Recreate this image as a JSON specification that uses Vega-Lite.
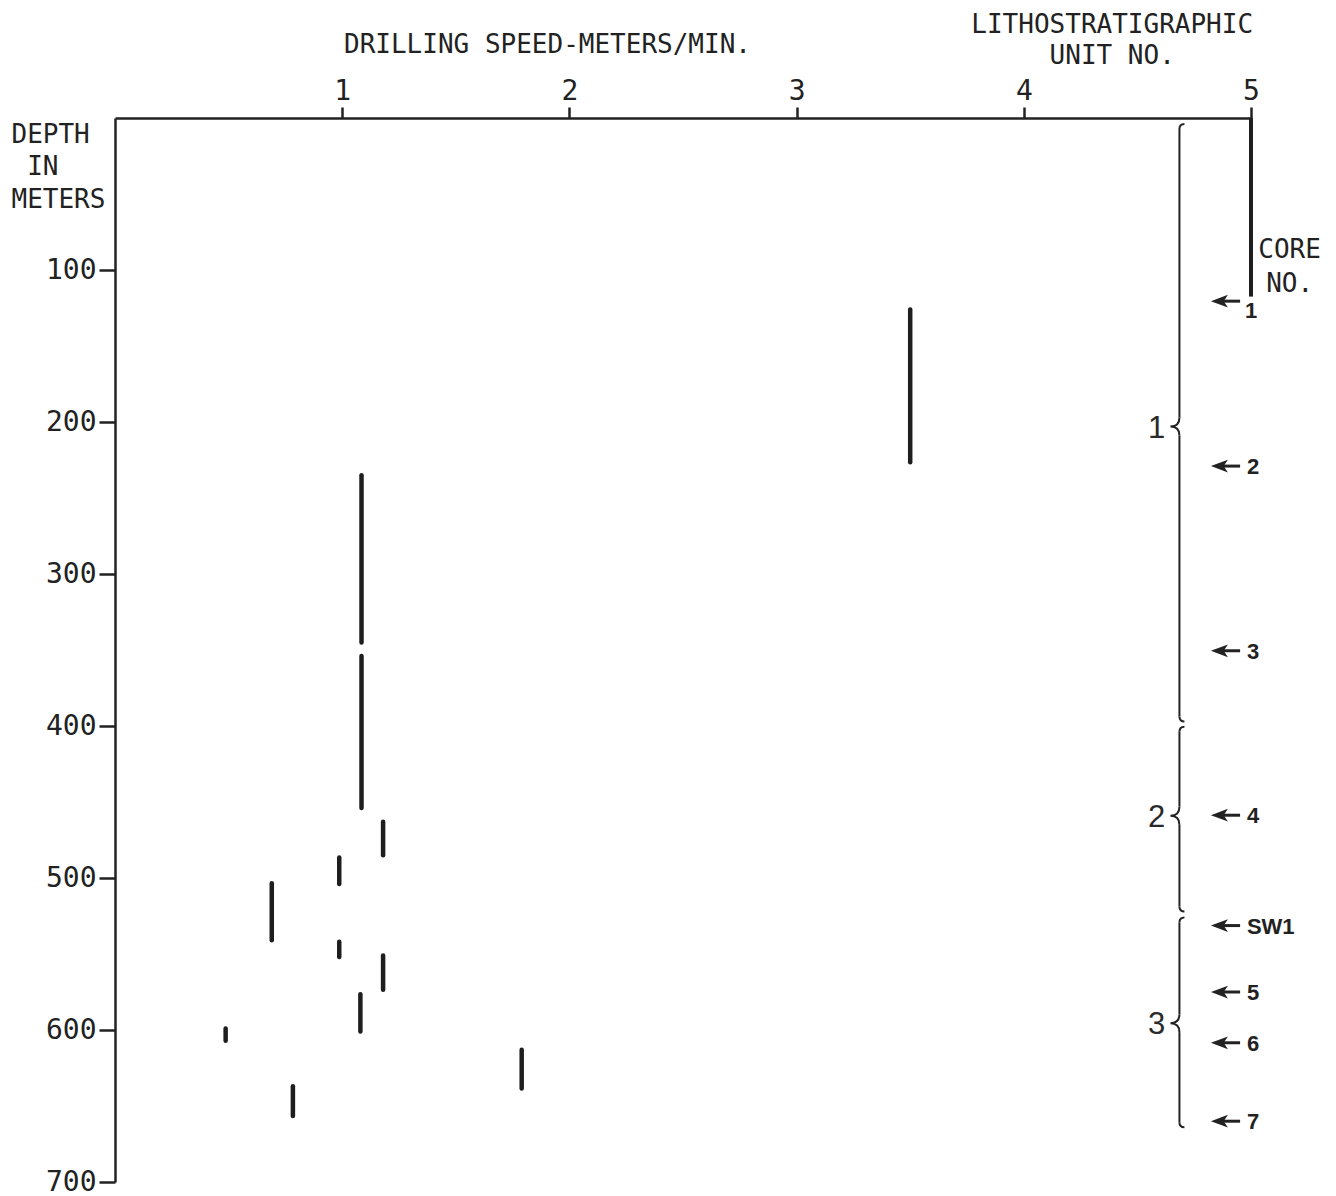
{
  "$schema": "https://vega.github.io/schema/vega-lite/v6.json",
  "autosize": {"type": "none"},
  "padding": {"left": 115, "top": 118, "right": 85, "bottom": 14},
  "width": 1136,
  "height": 1064,
  "background": "white",
  "datasets": {
    "segments": [
      {"speed": 3.50, "top": 126, "bottom": 226.5},
      {"speed": 1.085, "top": 235, "bottom": 345},
      {"speed": 1.085, "top": 354, "bottom": 454},
      {"speed": 1.18, "top": 463, "bottom": 485},
      {"speed": 0.987, "top": 486.5, "bottom": 504},
      {"speed": 0.69, "top": 503.5, "bottom": 541},
      {"speed": 0.987, "top": 542, "bottom": 552},
      {"speed": 1.18, "top": 551, "bottom": 573.5},
      {"speed": 1.08, "top": 576.5, "bottom": 601},
      {"speed": 0.487, "top": 599, "bottom": 607},
      {"speed": 1.79, "top": 613, "bottom": 638.5},
      {"speed": 0.783, "top": 637, "bottom": 656.5}
    ],
    "cored": [{"speed": 5, "top": 0, "bottom": 117.5}],
    "units": [
      {"unit": "1", "top": 4, "tip": 203, "bottom": 397},
      {"unit": "2", "top": 400.5, "tip": 459, "bottom": 522},
      {"unit": "3", "top": 526, "tip": 595.5, "bottom": 664}
    ],
    "cores": [
      {"core": "1", "depth": 120.5},
      {"core": "2", "depth": 229},
      {"core": "3", "depth": 350.5},
      {"core": "4", "depth": 458.7},
      {"core": "SW1", "depth": 531.3},
      {"core": "5", "depth": 575},
      {"core": "6", "depth": 608.4},
      {"core": "7", "depth": 660}
    ]
  },
  "layer": [
    {
      "data": {"name": "segments"},
      "mark": {"type": "rule", "strokeWidth": 4.5, "color": "#1e1e1e", "strokeCap": "round"},
      "encoding": {
        "x": {
          "field": "speed", "type": "quantitative",
          "scale": {"domain": [0, 5], "nice": false, "zero": false},
          "axis": {
            "orient": "top", "values": [1, 2, 3, 4, 5], "format": "d", "tickSize": 11, "labelPadding": 2,
            "title": "DRILLING SPEED-METERS/MIN.", "titleX": 432, "titleY": -66,
            "titleAlign": "center", "titleBaseline": "alphabetic"
          }
        },
        "y": {
          "field": "top", "type": "quantitative",
          "scale": {"domain": [0, 700], "reverse": true, "nice": false, "zero": false},
          "axis": {
            "values": [100, 200, 300, 400, 500, 600, 700], "format": "d", "tickSize": 16, "labelPadding": 3,
            "title": ["DEPTH", "\u200b\u00a0IN", "METERS"], "titleAngle": 0, "titleX": -104, "titleY": 3,
            "titleAlign": "left", "titleBaseline": "top", "titleLineHeight": 32.5
          }
        },
        "y2": {"field": "bottom"}
      }
    },
    {
      "data": {"name": "cored"},
      "mark": {"type": "rule", "strokeWidth": 4, "color": "#1e1e1e"},
      "encoding": {
        "x": {"field": "speed", "type": "quantitative"},
        "y": {"field": "top", "type": "quantitative"},
        "y2": {"field": "bottom"}
      }
    },
    {
      "data": {"name": "units"},
      "mark": {"type": "rule", "strokeWidth": 2, "color": "#222", "yOffset": 5, "y2Offset": -9},
      "encoding": {
        "x": {"datum": 4.685},
        "y": {"field": "top", "type": "quantitative"},
        "y2": {"field": "tip"}
      }
    },
    {
      "data": {"name": "units"},
      "mark": {"type": "rule", "strokeWidth": 2, "color": "#222", "yOffset": 9, "y2Offset": -5},
      "encoding": {
        "x": {"datum": 4.685},
        "y": {"field": "tip", "type": "quantitative"},
        "y2": {"field": "bottom"}
      }
    },
    {
      "data": {"name": "units"},
      "mark": {"type": "point", "shape": "M 0 1 Q 0 0 1 0", "size": 100, "filled": false, "stroke": "#222", "strokeWidth": 2, "opacity": 1},
      "encoding": {
        "x": {"datum": 4.685},
        "y": {"field": "top", "type": "quantitative"}
      }
    },
    {
      "data": {"name": "units"},
      "mark": {"type": "point", "shape": "M 0 -1 Q 0 0 1 0", "size": 100, "filled": false, "stroke": "#222", "strokeWidth": 2, "opacity": 1},
      "encoding": {
        "x": {"datum": 4.685},
        "y": {"field": "bottom", "type": "quantitative"}
      }
    },
    {
      "data": {"name": "units"},
      "mark": {"type": "point", "shape": "M 0 -1 Q 0 0 -1 0 Q 0 0 0 1", "size": 324, "filled": false, "stroke": "#222", "strokeWidth": 2, "opacity": 1},
      "encoding": {
        "x": {"datum": 4.685},
        "y": {"field": "tip", "type": "quantitative"}
      }
    },
    {
      "data": {"name": "units"},
      "mark": {"type": "text", "font": "Liberation Sans", "fontSize": 31, "align": "right", "baseline": "middle", "color": "#2a2a2a", "dy": 2},
      "encoding": {
        "x": {"datum": 4.623},
        "y": {"field": "tip", "type": "quantitative"},
        "text": {"field": "unit"}
      }
    },
    {
      "data": {"name": "cores"},
      "mark": {"type": "rule", "strokeWidth": 3, "color": "#222"},
      "encoding": {
        "x": {"datum": 4.864},
        "x2": {"datum": 4.952},
        "y": {"field": "depth", "type": "quantitative"}
      }
    },
    {
      "data": {"name": "cores"},
      "mark": {"type": "point", "shape": "M -1 0 L 1 -0.75 L 0.5 0 L 1 0.75 Z", "size": 289, "filled": true, "color": "#222", "opacity": 1, "strokeWidth": 0},
      "encoding": {
        "x": {"datum": 4.861},
        "y": {"field": "depth", "type": "quantitative"}
      }
    },
    {
      "data": {"name": "cores"},
      "transform": [{"filter": "datum.core !== '1'"}],
      "mark": {"type": "text", "font": "Liberation Sans", "fontWeight": "bold", "fontSize": 22, "align": "left", "baseline": "middle", "color": "#222", "dy": 1},
      "encoding": {
        "x": {"datum": 4.982},
        "y": {"field": "depth", "type": "quantitative"},
        "text": {"field": "core"}
      }
    },
    {
      "data": {"name": "cores"},
      "transform": [{"filter": "datum.core === '1'"}],
      "mark": {"type": "text", "font": "Liberation Sans", "fontWeight": "bold", "fontSize": 22, "align": "center", "baseline": "middle", "color": "#222", "dy": 10},
      "encoding": {
        "x": {"datum": 5.0},
        "y": {"field": "depth", "type": "quantitative"},
        "text": {"field": "core"}
      }
    },
    {
      "data": {"values": [{}]},
      "mark": {"type": "text", "font": "DejaVu Sans Mono", "fontSize": 26, "align": "center", "baseline": "alphabetic", "color": "#222", "lineHeight": 31},
      "encoding": {
        "x": {"datum": 4.389},
        "y": {"datum": -56},
        "text": {"value": ["LITHOSTRATIGRAPHIC", "UNIT NO."]}
      }
    },
    {
      "data": {"values": [{}]},
      "mark": {"type": "text", "font": "DejaVu Sans Mono", "fontSize": 26, "align": "center", "baseline": "alphabetic", "color": "#222", "lineHeight": 34},
      "encoding": {
        "x": {"datum": 5.17},
        "y": {"datum": 92},
        "text": {"value": ["CORE", "NO."]}
      }
    }
  ],
  "config": {
    "view": {"stroke": null},
    "axis": {
      "grid": false,
      "domainColor": "#222",
      "domainWidth": 2.5,
      "tickColor": "#222",
      "tickWidth": 2.5,
      "labelFont": "DejaVu Sans Mono",
      "labelFontSize": 28,
      "labelColor": "#222",
      "labelFlush": false,
      "labelOverlap": false,
      "titleFont": "DejaVu Sans Mono",
      "titleFontSize": 26,
      "titleFontWeight": "normal",
      "titleColor": "#222"
    }
  }
}
